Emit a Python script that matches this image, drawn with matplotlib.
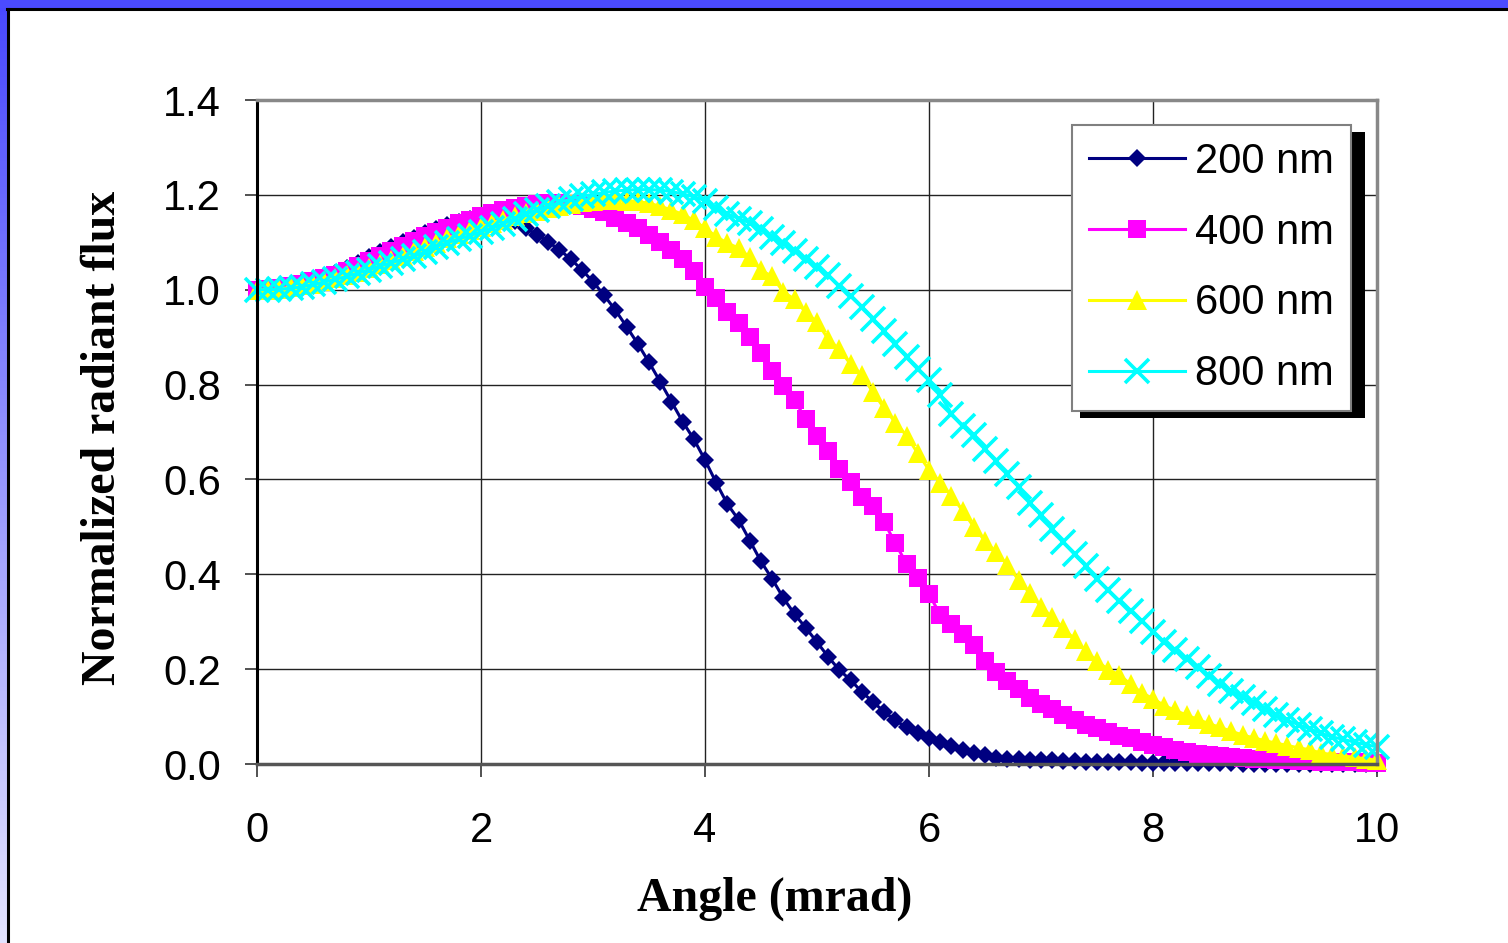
import numpy as np
import matplotlib
matplotlib.use('Agg')
from matplotlib import pyplot as plt
from matplotlib.patches import Rectangle

# angle in mrad, 0.1 steps
angle = np.round(np.arange(0, 10.01, 0.1), 1)

flux_200 = [1.000, 1.001, 1.004, 1.010, 1.016, 1.022, 1.028, 1.036, 1.046, 1.057,
            1.068, 1.079, 1.090, 1.100, 1.110, 1.119, 1.128, 1.136, 1.143, 1.149,
            1.153, 1.155, 1.153, 1.145, 1.130, 1.116, 1.101, 1.084, 1.065, 1.042,
            1.017, 0.988, 0.957, 0.922, 0.886, 0.847, 0.806, 0.764, 0.722, 0.685,
            0.641, 0.593, 0.548, 0.515, 0.471, 0.427, 0.390, 0.350, 0.316, 0.287,
            0.257, 0.226, 0.198, 0.177, 0.152, 0.131, 0.110, 0.092, 0.077, 0.065,
            0.055, 0.046, 0.038, 0.030, 0.024, 0.018, 0.013, 0.011, 0.010, 0.009,
            0.008, 0.008, 0.007, 0.006, 0.005, 0.005, 0.004, 0.004, 0.004, 0.003,
            0.003, 0.003, 0.003, 0.002, 0.002, 0.002, 0.002, 0.002, 0.001, 0.001,
            0.001, 0.001, 0.001, 0.001, 0.001, 0.001, 0.001, 0.001, 0.001, 0.001,
            0.001]

flux_400 = [1.000, 1.001, 1.004, 1.008, 1.013, 1.019, 1.025, 1.032, 1.040, 1.050,
            1.060, 1.071, 1.082, 1.093, 1.103, 1.113, 1.122, 1.131, 1.140, 1.148,
            1.155, 1.162, 1.168, 1.173, 1.177, 1.180, 1.182, 1.182, 1.180, 1.176,
            1.170, 1.163, 1.152, 1.141, 1.130, 1.116, 1.100, 1.083, 1.065, 1.040,
            1.006, 0.982, 0.952, 0.930, 0.900, 0.866, 0.828, 0.798, 0.767, 0.727,
            0.692, 0.660, 0.622, 0.594, 0.563, 0.544, 0.510, 0.465, 0.422, 0.392,
            0.358, 0.315, 0.295, 0.274, 0.250, 0.217, 0.193, 0.175, 0.158, 0.140,
            0.127, 0.115, 0.103, 0.092, 0.082, 0.075, 0.067, 0.060, 0.055, 0.047,
            0.041, 0.035, 0.030, 0.026, 0.022, 0.019, 0.016, 0.014, 0.012, 0.011,
            0.010, 0.009, 0.008, 0.007, 0.006, 0.005, 0.005, 0.004, 0.004, 0.003,
            0.003]

flux_600 = [1.000, 1.000, 1.002, 1.005, 1.009, 1.013, 1.018, 1.024, 1.031, 1.038,
            1.046, 1.054, 1.063, 1.072, 1.081, 1.090, 1.099, 1.108, 1.117, 1.125,
            1.133, 1.141, 1.148, 1.155, 1.161, 1.167, 1.172, 1.177, 1.181, 1.185,
            1.187, 1.189, 1.189, 1.188, 1.186, 1.182, 1.176, 1.168, 1.159, 1.146,
            1.130, 1.112, 1.098, 1.088, 1.068, 1.041, 1.028, 0.995, 0.980, 0.952,
            0.932, 0.896, 0.874, 0.843, 0.820, 0.784, 0.750, 0.720, 0.692, 0.655,
            0.620, 0.593, 0.566, 0.534, 0.500, 0.470, 0.446, 0.420, 0.388, 0.360,
            0.332, 0.309, 0.286, 0.263, 0.238, 0.217, 0.199, 0.188, 0.168, 0.150,
            0.138, 0.123, 0.113, 0.103, 0.094, 0.085, 0.077, 0.069, 0.061, 0.055,
            0.049, 0.044, 0.039, 0.034, 0.030, 0.023, 0.020, 0.017, 0.014, 0.011,
            0.008]

flux_800 = [1.000, 1.000, 1.001, 1.003, 1.006, 1.011, 1.016, 1.022, 1.028, 1.035,
            1.042, 1.050, 1.057, 1.064, 1.071, 1.079, 1.091, 1.099, 1.107, 1.114,
            1.122, 1.130, 1.139, 1.150, 1.159, 1.168, 1.176, 1.184, 1.191, 1.197,
            1.201, 1.205, 1.208, 1.210, 1.211, 1.211, 1.210, 1.207, 1.202, 1.196,
            1.188, 1.172, 1.160, 1.150, 1.141, 1.127, 1.112, 1.098, 1.082, 1.065,
            1.047, 1.030, 1.008, 0.986, 0.964, 0.938, 0.912, 0.886, 0.858, 0.832,
            0.810, 0.778, 0.739, 0.712, 0.694, 0.665, 0.638, 0.612, 0.584, 0.551,
            0.526, 0.496, 0.468, 0.442, 0.418, 0.390, 0.366, 0.344, 0.323, 0.302,
            0.279, 0.257, 0.240, 0.222, 0.204, 0.186, 0.168, 0.154, 0.141, 0.129,
            0.117, 0.104, 0.092, 0.083, 0.074, 0.065, 0.057, 0.052, 0.046, 0.041,
            0.036]

labels = ['200 nm', '400 nm', '600 nm', '800 nm']
x_ticks = [0, 2, 4, 6, 8, 10]
y_ticks = [0.0, 0.2, 0.4, 0.6, 0.8, 1.0, 1.2, 1.4]

W, H = 1508, 943
fig = plt.figure(figsize=(W / 100, H / 100), dpi=100)

# slide-style frame: blue band on top and a fading one on the left
band_top = fig.add_axes([0, 1 - 8 / H, 1, 8 / H])
band_top.set_facecolor('#4b4bff')
band_top.set_xticks([]), band_top.set_yticks([])
for s in band_top.spines.values():
    s.set_visible(False)
band_left = fig.add_axes([0, 0, 7 / W, 1 - 8 / H])
grad = np.linspace(0, 1, 256).reshape(-1, 1)
cols = np.zeros((256, 1, 3))
cols[:, 0, 0] = 0.29 + 0.6 * grad[:, 0]
cols[:, 0, 1] = 0.29 + 0.6 * grad[:, 0]
cols[:, 0, 2] = 1.0
band_left.imshow(cols, aspect='auto')
band_left.set_xticks([]), band_left.set_yticks([])
for s in band_left.spines.values():
    s.set_visible(False)
fig.add_artist(plt.Line2D([7 / W, 1], [1 - 9 / H, 1 - 9 / H], color='black', lw=2.2))
fig.add_artist(plt.Line2D([8 / W, 8 / W], [0, 1 - 9 / H], color='black', lw=2.2))

ax = fig.add_axes([257 / W, (H - 764) / H, 1120 / W, 664 / H])

styles = [
    dict(color='#000080', marker='D', ms=9.5, mew=0),
    dict(color='#ff00ff', marker='s', ms=12.5, mew=0),
    dict(color='#ffff00', marker='^', ms=14, mew=0),
    dict(color='#00ffff', marker='x', ms=17, mew=2.6),
]
for ys, lab, st in zip([flux_200, flux_400, flux_600, flux_800], labels, styles):
    ax.plot(angle, ys, lw=2.2, label=lab, clip_on=False, **st)

ax.set_xlim(0, 10)
ax.set_ylim(0, 1.4)
ax.set_xticks(x_ticks)
ax.set_yticks(y_ticks)
ax.set_yticklabels(['%.1f' % v for v in y_ticks])
ax.grid(True, color='#222222', lw=1.0)
ax.set_axisbelow(True)

ax.spines['left'].set_color('black')
ax.spines['left'].set_linewidth(2.2)
ax.spines['bottom'].set_color('#555555')
ax.spines['bottom'].set_linewidth(2.5)
ax.spines['top'].set_color('#888888')
ax.spines['top'].set_linewidth(2.5)
ax.spines['right'].set_color('#888888')
ax.spines['right'].set_linewidth(2.5)

tick_font = 'Liberation Sans'
ax.tick_params(axis='both', direction='out', length=9, width=1.2, color='#333333',
               labelsize=30)
ax.tick_params(axis='x', pad=25)
ax.tick_params(axis='y', pad=17)
for t in ax.get_xticklabels() + ax.get_yticklabels():
    t.set_fontfamily(tick_font)

ax.set_xlabel('Angle (mrad)', fontsize=34.5, fontweight='bold', family='Liberation Serif')
ax.set_ylabel('Normalized radiant flux', fontsize=34.5, fontweight='bold',
              family='Liberation Serif')
ax.xaxis.set_label_coords((775 - 257) / 1120, (764 - 877) / 664)
ax.yaxis.set_label_coords((125 - 257) / 1120, (764 - 437.5) / 664)

leg = ax.legend(loc='upper left', bbox_to_anchor=(1072 / W, 1 - 125 / H),
                bbox_transform=fig.transFigure, borderaxespad=0, fancybox=False,
                numpoints=1, handlelength=2.3, handletextpad=0.26, labelspacing=0.74,
                borderpad=0.4, prop={'family': tick_font, 'size': 30})
leg.get_frame().set_edgecolor('#808080')
leg.get_frame().set_linewidth(1.5)
leg.get_frame().set_alpha(1)

# hard black shadow behind the legend box
ax.add_patch(Rectangle((1080 / W, 1 - 418 / H), 285 / W, 286 / H, transform=fig.transFigure,
                       facecolor='black', edgecolor='none', zorder=4.9, clip_on=False))

fig.savefig('out.png', dpi=100)
